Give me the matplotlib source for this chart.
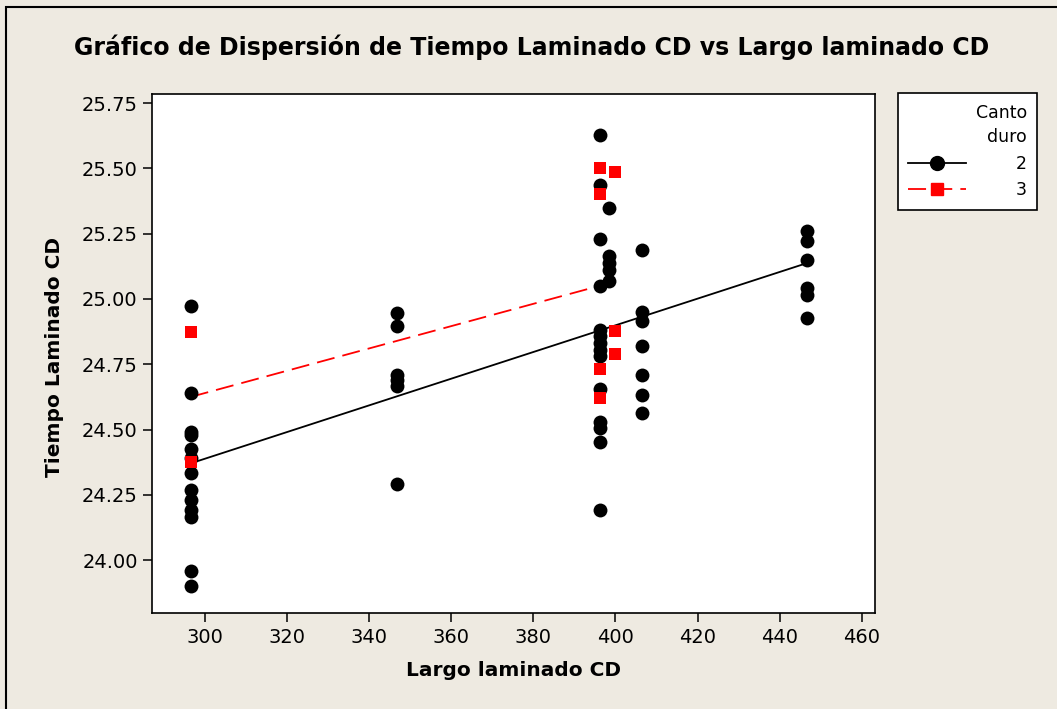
import numpy as np
import matplotlib
matplotlib.use("Agg")
import matplotlib.pyplot as plt
from matplotlib.lines import Line2D
from matplotlib.patches import Rectangle

# ---- data ----
largo_2 = ([296.5] * 13 + [346.7] * 6 + [396.3] * 14 + [398.5] * 5
           + [406.5] * 7 + [446.6] * 6)
tiempo_2 = [24.975, 24.639, 24.492, 24.479, 24.425, 24.390, 24.335, 24.268,
            24.230, 24.192, 24.166, 23.958, 23.900,
            24.946, 24.895, 24.710, 24.690, 24.665, 24.291,
            25.630, 25.435, 25.230, 25.048, 24.882, 24.857, 24.831, 24.806,
            24.780, 24.655, 24.530, 24.505, 24.454, 24.192,
            25.349, 25.163, 25.138, 25.112, 25.068,
            25.189, 24.952, 24.914, 24.818, 24.710, 24.633, 24.563,
            25.259, 25.221, 25.151, 25.042, 25.016, 24.927]

largo_3 = [296.5] * 2 + [396.3] * 4 + [400.0] * 3
tiempo_3 = [24.873, 24.375,
            25.500, 25.403, 24.733, 24.620,
            25.486, 24.876, 24.789]

x_ticks = [300, 320, 340, 360, 380, 400, 420, 440, 460]
y_ticks = [24.00, 24.25, 24.50, 24.75, 25.00, 25.25, 25.50, 25.75]

BG = "#EEEAE1"
W, H = 1057, 709

fig = plt.figure(figsize=(W / 100, H / 100), dpi=100, facecolor=BG)
# frame visible only on left and top (cropped screenshot)
fig.patches.append(Rectangle((6 / W, -0.2), 1.5, 1.2 - 7 / H,
                             transform=fig.transFigure, fill=False,
                             edgecolor="black", lw=1.5))

ax = fig.add_axes([152.3 / W, 1 - 613.3 / H, (874.7 - 152.3) / W,
                   (613.3 - 94.3) / H])
ax.set_facecolor("white")


def fit_line(x, y):
    x = np.asarray(x)
    b, a = np.polyfit(x, y, 1)
    xs = np.array([x.min(), x.max()])
    return xs, a + b * xs


xs2, ys2 = fit_line(largo_2, tiempo_2)
xs3, ys3 = fit_line(largo_3, tiempo_3)

ax.plot(xs2, ys2, color="black", lw=1.3, zorder=2)
ax.plot(xs3, ys3, color="red", lw=1.3, dashes=(10, 4.5), zorder=2)
ax.scatter(largo_2, tiempo_2, s=100, marker="o", color="black",
           linewidths=0, zorder=3)
ax.scatter(largo_3, tiempo_3, s=85, marker="s", color="red",
           linewidths=0, zorder=4)

ax.set_xlim(287.13, 463.17)
ax.set_ylim(23.796, 25.784)
ax.set_xticks(x_ticks)
ax.set_yticks(y_ticks)
ax.set_yticklabels([f"{v:.2f}" for v in y_ticks])
ax.tick_params(direction="out", length=6.5, width=1.1, labelsize=14,
               pad=4, colors="black")
for sp in ax.spines.values():
    sp.set_linewidth(1.2)
    sp.set_color("black")

ax.set_title("Gráfico de Dispersión de Tiempo Laminado CD vs Largo laminado CD",
             fontsize=17, fontweight="bold", x=(532 - 152.3) / 722.4,
             y=(613.3 - 56) / 519, va="center")
ax.set_xlabel("Largo laminado CD", fontsize=14.5, fontweight="bold")
ax.set_ylabel("Tiempo Laminado CD", fontsize=14.5, fontweight="bold")
ax.xaxis.label.set_va("center")
ax.xaxis.set_label_coords((513 - 152.3) / 722.4, (613.3 - 670) / 519)
ax.yaxis.label.set_va("center")
ax.yaxis.set_label_coords((55 - 152.3) / 722.4, (613.3 - 357) / 519)

handles = [
    Line2D([], [], color="black", lw=1.3, marker="o", markersize=10),
    Line2D([], [], color="red", lw=1.3, marker="s", markersize=9,
           dashes=(10, 4.5)),
]
leg = fig.legend(handles, ["2", "3"], title="Canto\nduro",
                 loc="upper left", bbox_to_anchor=(898 / W, 1 - 93.3 / H),
                 fontsize=12.5, title_fontsize=12.5, alignment="right",
                 frameon=True, fancybox=False, edgecolor="black",
                 facecolor="white", framealpha=1, borderpad=0.6,
                 handlelength=3.3, handletextpad=2.9, labelspacing=0.5,
                 borderaxespad=0)
leg.get_frame().set_linewidth(1.2)
leg.get_title().set_multialignment("right")
leg.get_title().set_linespacing(1.45)

fig.savefig("out.png", dpi=100, facecolor=BG)
